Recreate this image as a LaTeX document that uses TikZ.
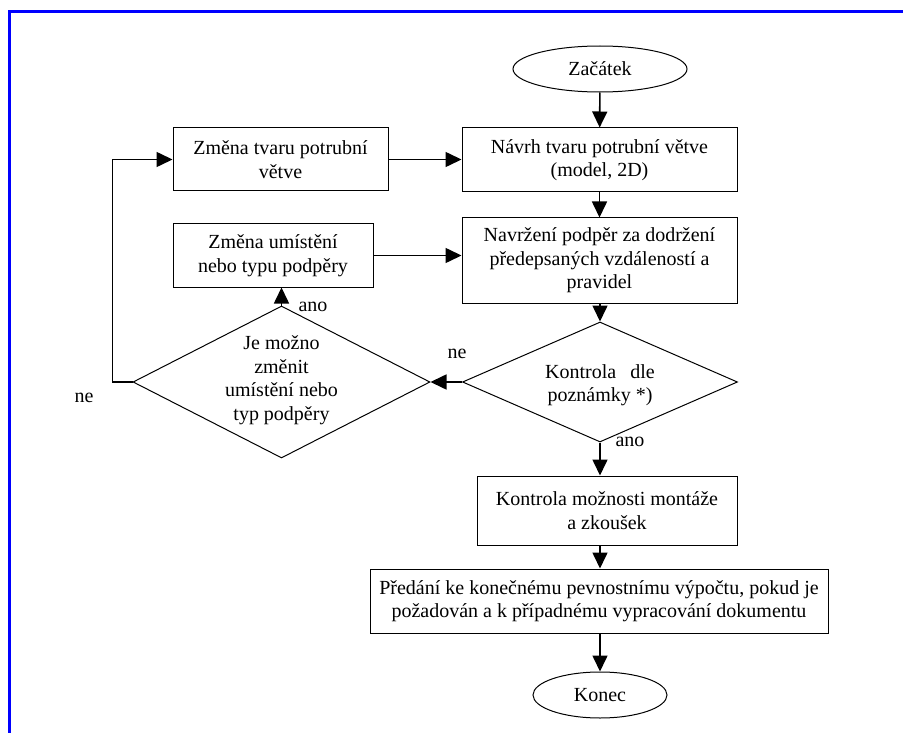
\documentclass[tikz,border=0pt]{standalone}
\usepackage{fontspec}
\setmainfont{Liberation Serif}
\usetikzlibrary{shapes.geometric,arrows.meta}
\begin{document}
\begin{tikzpicture}[x=1pt,y=-1pt,
  fnt/.style={font=\fontsize{20}{23.5}\selectfont},
  box/.style={draw, line width=1pt, inner sep=0pt, align=center, fnt},
  term/.style={draw, ellipse, line width=1pt, inner sep=0pt, align=center, fnt},
  dia/.style={draw, diamond, line width=1pt, inner sep=0pt},
  txt/.style={inner sep=0pt, align=center, fnt},
  conn/.style={line width=1.6pt, -{Triangle[length=16pt,width=15pt]}},
  plain/.style={line width=1.6pt}]
\useasboundingbox (0,0) rectangle (903,733);
\draw[blue, line width=3pt] (9.5,733) -- (9.5,11.5) -- (903,11.5);

\node[term, minimum width=174pt, minimum height=46pt] (zac) at (600,69) {Začátek};
\node[box, minimum width=275pt, minimum height=64pt] (navrh) at (599.5,160) {Návrh tvaru potrubní větve\\(model, 2D)};
\node[box, minimum width=275pt, minimum height=85pt] (navrz) at (599.5,260.5) {Navržení podpěr za dodržení\\předepsaných vzdáleností a\\pravidel};
\node[box, minimum width=215pt, minimum height=63pt] (tvar) at (280.5,159.5) {Změna tvaru potrubní\\větve};
\node[box, minimum width=200pt, minimum height=63pt] (umist) at (273,255.5) {Změna umístění\\nebo typu podpěry};
\node[dia, minimum width=275pt, minimum height=120pt] (kd) at (600,382) {};
\node[txt] (kdt) at (600,385) {Kontrola\hspace{14pt}dle\\poznámky *)};
\node[dia, minimum width=297pt, minimum height=152pt] (jd) at (281.5,382) {};
\node[txt] (jdt) at (281.5,380) {Je možno\\změnit\\umístění nebo\\typ podpěry};
\node[box, minimum width=260pt, minimum height=69pt] (km) at (607,510.5) {Kontrola možnosti montáže\\a zkoušek};
\node[box, minimum width=458pt, minimum height=64pt] (pred) at (599,601) {Předání ke konečnému pevnostnímu výpočtu, pokud je\\požadován a k případnému vypracování dokumentu};
\node[term, minimum width=134pt, minimum height=46pt] (kon) at (600,695) {Konec};

\node[txt] (ano1) at (313,307) {ano};
\node[txt] (ne1) at (457,354) {ne};
\node[txt] (ano2) at (630,442) {ano};
\node[txt] (ne2) at (84,398) {ne};

\draw[conn] (zac) -- (navrh);
\draw[conn] (navrh) -- (navrz);
\draw[conn] (navrz.south -| kd.north) -- (kd.north);
\draw[conn] (kd.west) -- (jd.east);
\draw[conn] (kd.south) -- (kd.south |- km.north);
\draw[conn] (kd.south |- km.south) -- (kd.south |- pred.north);
\draw[conn] (pred.south -| kon.north) -- (kon.north);
\draw[conn] (jd.north) -- (jd.north |- umist.south);
\draw[conn] (umist.east) -- (umist.east -| navrz.west);
\draw[conn] (tvar.east) -- (tvar.east -| navrh.west);
\draw[conn] (jd.west) -- ++(-20,0) |- (tvar.west);
\end{tikzpicture}
\end{document}
